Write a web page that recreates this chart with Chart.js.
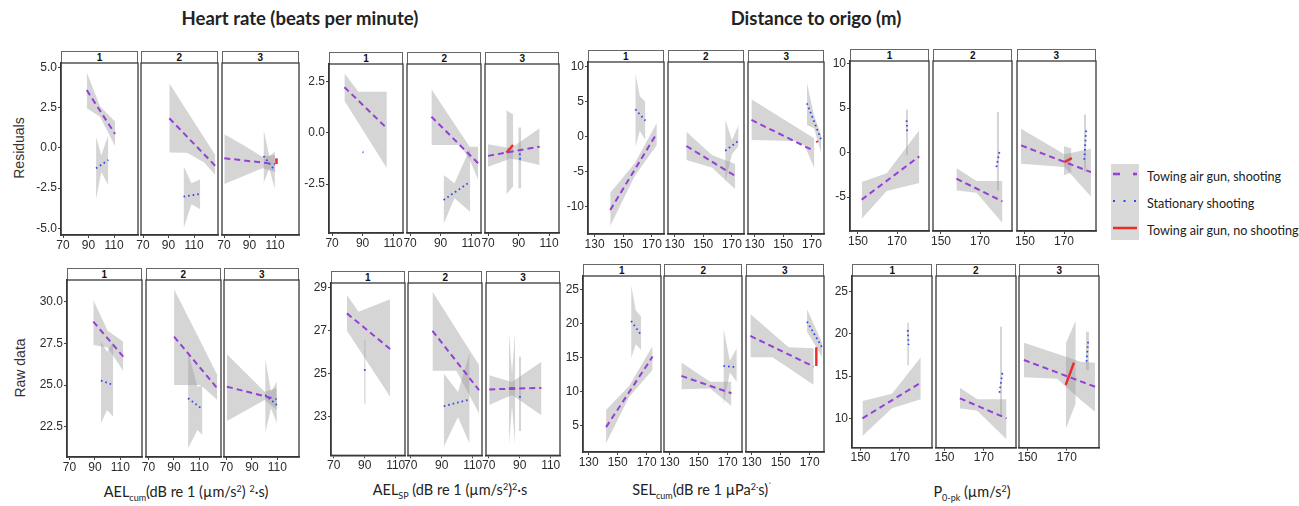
<!DOCTYPE html>
<html>
<head>
<meta charset="utf-8">
<script src="https://cdn.jsdelivr.net/npm/chart.js@4.4.1/dist/chart.umd.min.js"></script>
<style>
  body { margin: 0; width: 1299px; height: 506px; background: #fff; position: relative; overflow: hidden; font-family: Lato, "Open Sans", sans-serif; color: #222; }
  canvas { position: absolute; }
  .strip { position: absolute; box-sizing: border-box; border: 1px solid #666; border-bottom: none; background: #fff;
           font: bold 10px "Liberation Sans", Arial, sans-serif; text-align: center; line-height: 11px; color: #111; }
  .title { position: absolute; font-weight: bold; font-size: 18.5px; white-space: nowrap; transform: translate(-50%, -50%); }
  .ytitle { position: absolute; font-size: 14px; font-family: "Liberation Sans", Arial, sans-serif; white-space: nowrap; transform: translate(-50%, -50%) rotate(-90deg); color: #333; }
  .xtitle { position: absolute; font-size: 14.5px; white-space: nowrap; transform: translate(-50%, -50%); }
  .xtitle sub, .xtitle sup { font-size: 9px; }
  .leg { position: absolute; font-size: 12.6px; white-space: nowrap; transform: translateY(-50%); }
</style>
</head>
<body>
<div class="title" style="left:300px;top:18px">Heart rate (beats per minute)</div>
<div class="title" style="left:816px;top:18px">Distance to origo (m)</div>
<div class="ytitle" style="left:19px;top:148px">Residuals</div>
<div class="ytitle" style="left:20px;top:368px">Raw data</div>

<div class="xtitle" style="left:186px;top:493px">AEL<sub>cum</sub>(dB re 1 (µm/s<sup>2</sup>) <sup>2</sup>·s)</div>
<div class="xtitle" style="left:450px;top:491px">AEL<sub>SP</sub> (dB re 1 (µm/s<sup>2</sup>)<sup>2</sup>·s</div>
<div class="xtitle" style="left:702px;top:491px">SEL<sub>cum</sub>(dB re 1 µPa<sup>2·</sup>s)<sup>`</sup></div>
<div class="xtitle" style="left:972px;top:493px">P<sub>0-pk</sub> (µm/s<sup>2</sup>)</div>

<svg style="position:absolute;left:1111px;top:164px" width="28" height="76">
  <rect x="0" y="0" width="28" height="76" fill="#d9d9d9"/>
  <line x1="2" y1="10" x2="26" y2="10" stroke="#9440d4" stroke-width="2.5" stroke-dasharray="7 14"/>
  <line x1="22" y1="10" x2="24" y2="10" stroke="#9440d4" stroke-width="2.5"/>
  <line x1="2" y1="37" x2="26" y2="37" stroke="#3346e6" stroke-width="2.2" stroke-dasharray="2 8.5"/>
  <line x1="2" y1="64" x2="26" y2="64" stroke="#ee2b2b" stroke-width="2.5"/>
</svg>
<div class="leg" style="left:1147px;top:176px">Towing air gun, shooting</div>
<div class="leg" style="left:1147px;top:203px">Stationary shooting</div>
<div class="leg" style="left:1147px;top:230px">Towing air gun, no shooting</div>

<script>
// ---- tick labels ----
const hrTicksX = [70, 90, 110];
const selTicksX = [130, 150, 170];
const pkTicksX = [150, 170];
const hrCumResTicksY = [-5, -2.5, 0, 2.5, 5];
const hrCumRawTicksY = [22.5, 25, 27.5, 30];
const hrSpResTicksY = [-2.5, 0, 2.5];
const hrSpRawTicksY = [23, 25, 27, 29];
const selResTicksY = [-10, -5, 0, 5, 10];
const selRawTicksY = [5, 10, 15, 20, 25];
const pkResTicksY = [-5, 0, 5, 10];
const pkRawTicksY = [10, 15, 20, 25];
const facetLabels = ['1', '2', '3'];

// ---- fitted lines per facet: line = [x0, y0, x1, y1], band = [[x, lower, upper], ...] ----
// Heart rate, AEL_cum, residuals
const hrCumResTow = [
  { line: [88.6, 3.6, 110.8, 0.87], band: [[88.6, 2.47, 4.71], [99, 1.95, 2.6], [110.8, 0.12, 1.64]] },
  { line: [90.6, 1.85, 126.7, -1.12], band: [[90.6, -0.29, 4.03], [104.5, -0.3, 2.3], [118, -0.9, 0.64], [126.7, -1.68, -0.44]] },
  { line: [70.2, -0.64, 110.2, -1.0], band: [[70.2, -2.24, 0.85], [85, -1.76, 0.19], [100, -1.26, -0.54], [110.2, -1.48, -0.44]] }
];
const hrCumResStat = [
  { line: [95.9, -1.27, 105.5, -0.75], band: [[95.9, -3.19, 0.7], [100, -1.5, -0.45], [105.5, -2.3, 0.81]] },
  { line: [101.8, -3.03, 114.9, -2.86], band: [[101.8, -5.0, -1.12], [108, -3.5, -2.2], [114.9, -3.82, -1.95]] },
  { line: [101, -0.5, 109.9, -1.41], band: [[101, -2.2, 1.16], [105.5, -1.3, -0.5], [109.9, -2.57, -0.23]] }
];
const hrCumResOff = [null, null, { line: [111, -0.65, 111.2, -1.0], band: null }];

// Heart rate, AEL_cum, raw data
const hrCumRawTow = [
  { line: [88.7, 28.8, 112.3, 26.7], band: [[88.7, 27.4, 30.1], [100, 27.25, 28.25], [112.3, 25.84, 27.6]] },
  { line: [90.1, 27.9, 124.1, 24.8], band: [[90.1, 25.0, 30.74], [111, 25.0, 27.6], [124.1, 24.1, 25.6]] },
  { line: [70.3, 24.9, 109.5, 24.14], band: [[70.3, 22.84, 26.84], [100, 24.1, 24.6], [109.5, 23.5, 24.8]] }
];
const hrCumRawStat = [
  { line: [94.7, 25.26, 104.4, 25.0], band: [[94.7, 22.7, 27.6], [99.5, 23.5, 27.0], [104.4, 23.1, 27.6]] },
  { line: [101.1, 24.2, 112.4, 23.55], band: [[101.1, 21.2, 27.0], [108.5, 22.3, 24.9], [112.4, 22.0, 25.0]] },
  { line: [100.4, 24.4, 109.6, 23.8], band: [[100.4, 22.1, 26.6], [105, 23.6, 24.6], [109.6, 22.7, 25.2]] }
];
const hrCumRawOff = [null, null, null];

// Heart rate, AEL_SP, residuals
const hrSpResTow = [
  { line: [78.1, 2.23, 105.9, 0.23], band: [[78.1, 1.57, 2.91], [87.3, 0.48, 2.01], [105.9, -1.72, 2.01]] },
  { line: [84, 0.79, 114.6, -1.48], band: [[84, -0.59, 2.13], [102.6, -0.59, 0.05], [109.1, -1.3, -0.67], [114.6, -2.3, -0.67]] },
  { line: [70, -1.12, 103.8, -0.67], band: [[70, -1.65, -0.55], [85, -1.25, -0.75], [103.8, -1.56, 0.23]] }
];
const hrSpResStat = [
  { line: [90.0, -0.93, 90.6, -0.95], band: null },
  { line: [92, -3.27, 109.4, -2.38], band: [[92, -4.44, -2.05], [99.1, -3.19, -2.46], [109.4, -3.84, -0.75]] },
  { line: [90.8, -1.0, 91.0, -1.3], band: [[89.8, -2.7, 0.27], [91.8, -2.7, 0.27]] }
];
const hrSpResOff = [null, null, { line: [82.1, -0.96, 86.4, -0.59], band: [[82, -3.0, 1.1], [86.5, -2.6, 0.9]] }];

// Heart rate, AEL_SP, raw data
const hrSpRawTow = [
  { line: [78.5, 27.79, 106.5, 26.13], band: [[78.5, 26.98, 28.64], [86, 26.16, 27.87], [106.5, 23.91, 28.44]] },
  { line: [84, 26.98, 114.1, 24.22], band: [[84, 25.12, 28.8], [99.5, 25.12, 27.04], [114.1, 23.14, 25.39]] },
  { line: [70.3, 24.26, 104, 24.33], band: [[70.3, 23.53, 24.92], [85, 24.0, 24.6], [104, 23.06, 25.54]] }
];
const hrSpRawStat = [
  { line: [90, 25.2, 90.2, 25.0], band: [[89.6, 23.6, 26.55], [90.6, 23.6, 26.55]] },
  { line: [91.3, 23.48, 108, 23.79], band: [[91.3, 21.6, 25.0], [100.5, 22.98, 24.14], [108, 21.74, 25.96]] },
  { line: [90.1, 23.95, 90.3, 23.8], band: [[89.4, 22.33, 25.77], [90.9, 22.33, 25.77]] }
];
const hrSpRawOff = [null, null, { line: [83, 24.3, 87, 24.3], band: [[83, 21.67, 26.94], [85, 23.5, 25.0], [87, 21.67, 26.94]] }];

// Distance, SEL_cum, residuals
const selResTow = [
  { line: [140.9, -10.47, 173.4, 0.49], band: [[140.9, -12.76, -8.0], [158, -5.6, -3.8], [173.4, -1.19, 2.0]] },
  { line: [138.2, -1.33, 172.3, -5.61], band: [[138.2, -3.33, 0.71], [156, -4.4, -2.6], [172.3, -7.5, -3.9]] },
  { line: [127.8, 2.39, 171.6, -2.04], band: [[127.8, -0.47, 5.34], [158, -0.6, 1.5], [165, -1.3, 0.61], [171.6, -4.51, -0.23]] }
];
const selResStat = [
  { line: [158.4, 3.91, 165.4, 2.29], band: [[158.4, -1.51, 9.14], [161.5, 0.8, 5.8], [165.4, -0.47, 5.0]] },
  { line: [165.3, -2.0, 174.6, -0.57], band: [[165.3, -6.43, 2.49], [170, -2.5, -0.5], [174.6, -1.33, 1.67]] },
  { line: [166.5, 4.77, 176.5, -0.47], band: [[166.5, 1.67, 7.71], [171.5, 1.2, 3.0], [176.5, -2.37, 0.24]] }
];
const selResOff = [null, null, { line: [173.3, -0.6, 173.9, -0.8], band: null }];

// Distance, SEL_cum, raw data
const selRawTow = [
  { line: [142, 4.81, 174.1, 15.2], band: [[142, 2.45, 7.35], [158, 9.3, 10.9], [174.1, 13.24, 16.76]] },
  { line: [138.1, 12.35, 172.6, 9.8], band: [[138.1, 10.4, 14.31], [158, 10.5, 11.5], [172.6, 7.94, 11.51]] },
  { line: [129.1, 18.24, 172.8, 13.72], band: [[129.1, 15.1, 21.47], [144.3, 15.1, 18.65], [155.5, 13.5, 16.57], [172.8, 11.03, 16.43]] }
];
const selRawStat = [
  { line: [159.3, 20.44, 166.2, 18.38], band: [[159.3, 14.96, 25.7], [162.5, 17.0, 22.0], [166.2, 16.18, 21.07]] },
  { line: [167.1, 13.82, 176.3, 13.63], band: [[167.1, 8.09, 19.37], [171.5, 12.8, 14.6], [176.3, 11.5, 16.43]] },
  { line: [168.2, 20.34, 178.5, 16.57], band: [[168.2, 18.87, 22.16], [178.5, 15.19, 17.25]] }
];
const selRawOff = [null, null, { line: [174.6, 16.57, 174.6, 13.82], band: null }];

// Distance, P0-pk, residuals
const pkResTow = [
  { line: [151.9, -5.28, 181.4, -0.42], band: [[151.9, -7.42, -3.3], [164.7, -4.3, -2.3], [181.4, -3.42, 2.51]] },
  { line: [157.9, -2.92, 181.5, -5.47], band: [[157.9, -4.24, -1.73], [168.2, -4.5, -3.19], [181.5, -7.91, -3.19]] },
  { line: [148, 0.82, 183.8, -2.18], band: [[148, -1.24, 2.7], [170.2, -1.62, -0.19], [183.8, -4.91, 0.45]] }
];
const pkResStat = [
  { line: [174.9, 3.63, 175.3, 2.13], band: [[174.6, -0.3, 4.83], [175.6, -0.3, 4.83]] },
  { line: [178.4, -1.62, 180.1, 0.26], band: [[178.6, -4.24, 4.56], [179.8, -4.24, 4.56]] },
  { line: [180.4, -0.79, 181.4, 2.81], band: [[180.2, -2.18, 4.3], [181.4, -2.18, 4.3]] }
];
const pkResOff = [null, null, { line: [170.2, -1.06, 174, -0.61], band: [[170, -2.55, 0.71], [173.8, -2.2, 0.5]] }];

// Distance, P0-pk, raw data
const pkRawTow = [
  { line: [151, 10.0, 180.6, 14.22], band: [[151, 7.9, 12.05], [166, 11.2, 12.9], [180.6, 12.25, 17.23]] },
  { line: [157.8, 12.37, 181.5, 10.0], band: [[157.8, 11.18, 13.63], [166.6, 10.9, 12.25], [181.5, 7.51, 12.25]] },
  { line: [148.2, 16.91, 184.3, 13.74], band: [[148.2, 14.86, 18.96], [165, 14.7, 17.65], [177, 12.17, 16.71], [184.3, 10.78, 16.59]] }
];
const pkRawStat = [
  { line: [174, 20.46, 174.4, 18.68], band: [[173.7, 16.3, 21.33], [174.7, 16.3, 21.33]] },
  { line: [177.9, 13.03, 179.6, 15.72], band: [[178.2, 10.39, 20.85], [179.3, 10.39, 20.85]] },
  { line: [180, 16.71, 180.8, 19.28], band: [[179.6, 15.72, 20.26], [181.2, 15.72, 20.26]] }
];
const pkRawOff = [null, null, { line: [169.4, 13.95, 173.6, 16.59], band: [[169.5, 8.8, 18.9], [174.5, 11.8, 21.6]] }];

// ---- styles ----
const bandFill = 'rgba(150,150,150,0.4)';
const towStyle = { color: '#9440d4', dash: [6, 4], width: 2 };
const statStyle = { color: '#3346e6', dash: [1.6, 3], width: 1.8 };
const offStyle = { color: '#ee2b2b', dash: [], width: 2.4 };
const tickFont = { family: '"Liberation Sans", Arial, sans-serif', size: 12 };

// ---- panel layout (page pixels) ----
const panelRows = [
  { tow: hrCumResTow, stat: hrCumResStat, off: hrCumResOff, lefts: [61, 140.7, 221.7], w: 77, top: 63, bottom: 235, x: [68.4, 128.8], xt: hrTicksX, y: [-5.42, 5.29], yt: hrCumResTicksY, dec: 1 },
  { tow: hrCumRawTow, stat: hrCumRawStat, off: hrCumRawOff, lefts: [66.7, 145.7, 224.3], w: 75, top: 280, bottom: 457, x: [68, 127], xt: hrTicksX, y: [20.68, 31.3], yt: hrCumRawTicksY, dec: 1 },
  { tow: hrSpResTow, stat: hrSpResStat, off: hrSpResOff, lefts: [329, 407.3, 485.3], w: 74, top: 64, bottom: 233, x: [68, 116.5], xt: hrTicksX, y: [-4.88, 3.36], yt: hrSpResTicksY, dec: 1 },
  { tow: hrSpRawTow, stat: hrSpRawStat, off: hrSpRawOff, lefts: [330.7, 408.3, 486], w: 74, top: 282.7, bottom: 455, x: [68.2, 116], xt: hrTicksX, y: [21.2, 29.2], yt: hrSpRawTicksY, dec: 0 },
  { tow: selResTow, stat: selResStat, off: selResOff, lefts: [587.7, 667.7, 748.3], w: 76, top: 62, bottom: 234, x: [125.4, 178.4], xt: selTicksX, y: [-13.9, 10.67], yt: selResTicksY, dec: 0 },
  { tow: selRawTow, stat: selRawStat, off: selRawOff, lefts: [582.7, 664.3, 745.7], w: 78, top: 276, bottom: 452, x: [126.1, 179.9], xt: selTicksX, y: [1.15, 27.06], yt: selRawTicksY, dec: 0 },
  { tow: pkResTow, stat: pkResStat, off: pkResOff, lefts: [850, 933.3, 1016.7], w: 79, top: 60.7, bottom: 230.7, x: [145.9, 186.4], xt: pkTicksX, y: [-8.8, 10.3], yt: pkResTicksY, dec: 0 },
  { tow: pkRawTow, stat: pkRawStat, off: pkRawOff, lefts: [852.3, 935.7, 1019.3], w: 80, top: 276, bottom: 447.7, x: [145.7, 186.3], xt: pkTicksX, y: [6.52, 26.86], yt: pkRawTicksY, dec: 0 }
];

const frame = {
  id: 'frame',
  afterDatasetsDraw(chart) {
    const a = chart.chartArea, ctx = chart.ctx;
    ctx.save();
    ctx.strokeStyle = '#3a3a3a';
    ctx.lineWidth = 1.3;
    ctx.strokeRect(a.left, a.top, a.right - a.left, a.bottom - a.top);
    ctx.restore();
  }
};

function addSeries(ds, s, style) {
  if (!s) return;
  if (s.band) {
    ds.push({ data: s.band.map(p => ({ x: p[0], y: p[1] })), borderWidth: 0, borderColor: 'transparent', pointRadius: 0, fill: false, order: 2 });
    ds.push({ data: s.band.map(p => ({ x: p[0], y: p[2] })), borderWidth: 0, borderColor: 'transparent', pointRadius: 0, fill: '-1', backgroundColor: bandFill, order: 2 });
  }
  ds.push({
    data: [{ x: s.line[0], y: s.line[1] }, { x: s.line[2], y: s.line[3] }],
    borderColor: style.color, borderDash: style.dash, borderWidth: style.width,
    pointRadius: 0, fill: false, order: 1
  });
}

function makePanel(row, f) {
  const L = row.lefts[f], T = row.top, W = row.w, H = row.bottom - row.top;
  const yVis = f === 0;
  const padL = 14, padR = 14, padT = 8, xH = 18, yW = 30;
  const extraL = yVis ? yW : 0;

  const strip = document.createElement('div');
  strip.className = 'strip';
  strip.style.left = L + 'px';
  strip.style.top = (T - 12) + 'px';
  strip.style.width = W + 'px';
  strip.style.height = '12px';
  strip.textContent = facetLabels[f];
  document.body.appendChild(strip);

  const canvas = document.createElement('canvas');
  canvas.width = Math.round(W + padL + padR + extraL);
  canvas.height = Math.round(H + padT + xH + 4);
  canvas.style.left = (L - padL - extraL) + 'px';
  canvas.style.top = (T - padT) + 'px';
  document.body.appendChild(canvas);

  const ds = [];
  addSeries(ds, row.tow[f], towStyle);
  addSeries(ds, row.stat[f], statStyle);
  addSeries(ds, row.off[f], offStyle);

  new Chart(canvas, {
    type: 'line',
    data: { datasets: ds },
    options: {
      responsive: false,
      animation: false,
      devicePixelRatio: 1,
      layout: { padding: { left: padL, right: padR, top: padT, bottom: canvas.height - padT - H - xH } },
      plugins: { legend: { display: false }, tooltip: { enabled: false } },
      elements: { line: { tension: 0 } },
      scales: {
        x: {
          type: 'linear', min: row.x[0], max: row.x[1],
          afterBuildTicks: s => { s.ticks = row.xt.map(v => ({ value: v })); },
          ticks: { autoSkip: false, maxRotation: 0, padding: 0, font: tickFont, color: '#2b2b2b' },
          grid: { drawOnChartArea: false, drawTicks: true, tickLength: 3, color: '#444' },
          border: { display: true, color: '#333', width: 1.5 },
          afterFit: s => { s.height = xH; s.paddingLeft = 0; s.paddingRight = 0; }
        },
        y: {
          type: 'linear', min: row.y[0], max: row.y[1], display: yVis,
          afterBuildTicks: s => { s.ticks = row.yt.map(v => ({ value: v })); },
          ticks: { autoSkip: false, padding: 1, font: tickFont, color: '#2b2b2b', callback: v => Number(v).toFixed(row.dec) },
          grid: { drawOnChartArea: false, drawTicks: true, tickLength: 3, color: '#444' },
          border: { display: true, color: '#333', width: 1.5 },
          afterFit: s => { s.width = yVis ? yW : 0; s.paddingTop = 0; s.paddingBottom = 0; }
        }
      }
    },
    plugins: [frame]
  });
}

panelRows.forEach(row => { [0, 1, 2].forEach(f => makePanel(row, f)); });
</script>
</body>
</html>
